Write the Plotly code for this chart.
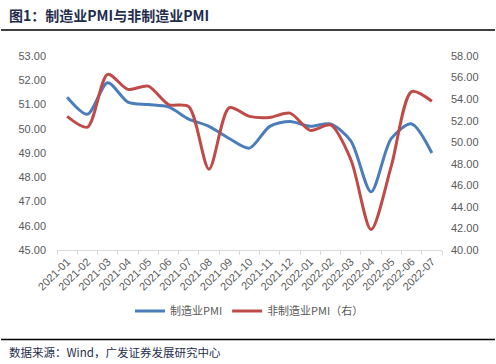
import plotly.graph_objects as go

months = ["2021-01","2021-02","2021-03","2021-04","2021-05","2021-06","2021-07","2021-08","2021-09","2021-10",
          "2021-11","2021-12","2022-01","2022-02","2022-03","2022-04","2022-05","2022-06","2022-07"]
mfg_pmi = [51.3,50.6,51.9,51.1,51.0,50.9,50.4,50.1,49.6,49.2,50.1,50.3,50.1,50.2,49.5,47.4,49.6,50.2,49.0]
nonmfg_pmi = [52.4,51.4,56.3,54.9,55.2,53.5,53.3,47.5,53.2,52.4,52.3,52.7,51.1,51.6,48.4,41.9,47.8,54.7,53.8]

W, H = 496, 364
ML, MR, MT, MB = 57, 54, 56, 114
PH = H - MT - MB
PW = W - ML - MR

def py(p):
    return (H - MB - p) / PH

def px(p):
    return (p - ML) / PW

fig = go.Figure()
fig.add_trace(go.Scatter(x=months, y=mfg_pmi, mode="lines", name="制造业PMI",
                         line=dict(color="#4A7EBB", width=3, shape="spline", smoothing=0.8)))
fig.add_trace(go.Scatter(x=months, y=nonmfg_pmi, mode="lines", name="非制造业PMI（右）", yaxis="y2",
                         line=dict(color="#BE4B48", width=3, shape="spline", smoothing=0.8)))

tickfont = dict(family="Liberation Sans, Arial", size=11, color="#595959")
fig.update_layout(
    width=W, height=H,
    margin=dict(l=ML, r=MR, t=MT, b=MB),
    paper_bgcolor="white", plot_bgcolor="white",
    showlegend=True,
    legend=dict(orientation="h", x=0.5, xanchor="center", y=py(311), yanchor="middle",
                font=dict(family="Noto Sans CJK SC", size=11, color="#595959"),
                itemwidth=30, tracegroupgap=0),
    xaxis=dict(type="category", range=[-0.5, 18.5], showgrid=False, showline=True,
               linecolor="#D9D9D9", linewidth=1, ticks="outside", tickson="boundaries",
               ticklen=4, tickcolor="#D9D9D9", tickangle=-45, tickfont=tickfont),
    yaxis=dict(range=[45, 53], dtick=1, tickformat=".2f", showgrid=False, showline=False,
               zeroline=False, tickfont=tickfont, ticks="", ticklabelstandoff=10),
    yaxis2=dict(range=[40, 58], dtick=2, tickformat=".2f", overlaying="y", side="right",
                showgrid=False, showline=False, zeroline=False, tickfont=tickfont, ticks="",
                ticklabelstandoff=8),
)

fig.add_annotation(text="<b>图1：制造业PMI与非制造业PMI</b>", xref="paper", yref="paper",
                   x=px(7), y=py(15), xanchor="left", yanchor="middle", showarrow=False,
                   font=dict(family="Noto Sans CJK SC", size=14, color="#1F2D4D"))
fig.add_annotation(text="数据来源：Wind，广发证券发展研究中心", xref="paper", yref="paper",
                   x=px(7), y=py(352), xanchor="left", yanchor="middle", showarrow=False,
                   font=dict(family="Noto Sans CJK SC", size=11.5, color="#1F2D4D"))
fig.add_shape(type="line", xref="paper", yref="paper", x0=px(1), x1=px(495), y0=py(30), y1=py(30),
              line=dict(color="black", width=1.5))
fig.add_shape(type="line", xref="paper", yref="paper", x0=px(1), x1=px(495), y0=py(339.5), y1=py(339.5),
              line=dict(color="black", width=1.5))

fig.write_html("out.html", config={"displayModeBar": False},
               post_script="document.body.style.margin='0';document.body.style.padding='0';")
